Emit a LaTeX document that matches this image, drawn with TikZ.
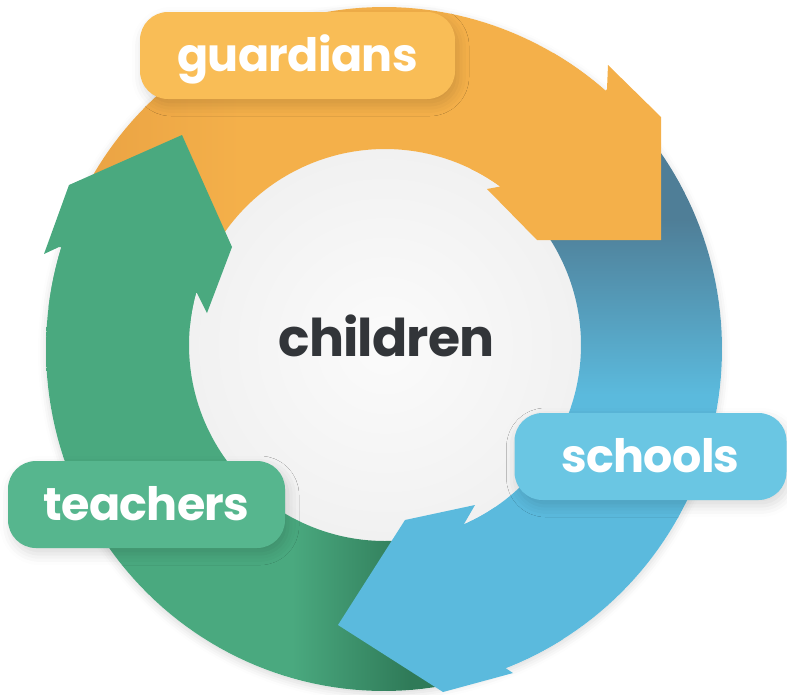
\documentclass[tikz,border=0pt]{standalone}
\usepackage{fontspec}
\setmainfont{Poppins}
\newfontfamily\labfont{Poppins}[LetterSpace=-1.5]
\newfontfamily\midfont{Poppins}[LetterSpace=-1.8]
\usetikzlibrary{shadows.blur}
\definecolor{orA}{HTML}{F4B04A}
\definecolor{orL}{HTML}{F9BD56}
\definecolor{orD}{HTML}{EBA444}
\definecolor{blA}{HTML}{5BBADD}
\definecolor{blL}{HTML}{6AC6E3}
\definecolor{blD}{HTML}{4F7E97}
\definecolor{grA}{HTML}{4AA97F}
\definecolor{grL}{HTML}{56B68E}
\definecolor{grD}{HTML}{2F7A58}
\definecolor{txt}{HTML}{323539}
\definecolor{wcA}{HTML}{FBFBFB}
\definecolor{wcB}{HTML}{F1F1F1}
\pgfdeclareverticalshading{blueS}{100bp}{color(0bp)=(blA); color(50bp)=(blA); color(66bp)=(blD); color(100bp)=(blD)}
\pgfdeclarehorizontalshading{greenS}{100bp}{color(0bp)=(grA); color(56bp)=(grA); color(71bp)=(grD); color(100bp)=(grD)}
\pgfdeclarehorizontalshading{orangeS}{100bp}{color(0bp)=(orD); color(26bp)=(orD); color(40bp)=(orA); color(100bp)=(orA)}
\tikzset{
  lab/.style={rectangle, rounded corners=28pt, minimum height=87pt, inner sep=0pt,
    text=white, font=\labfont\fontsize{46pt}{46pt}\selectfont\bfseries,
    text height=32pt, text depth=0pt,
    blur shadow={shadow xshift=3pt, shadow yshift=-6pt, shadow blur radius=11pt, shadow opacity=15}},
  ctext/.style={text=txt, font=\midfont\fontsize{52pt}{52pt}\selectfont\bfseries, inner sep=0pt}
}
\begin{document}
\begin{tikzpicture}[x=1pt,y=-1pt]
\useasboundingbox (0,0) rectangle (787,694);
% ring halo
\fill[white, blur shadow={shadow xshift=0pt, shadow yshift=-3pt, shadow blur radius=8pt, shadow opacity=15}]
  (384,349) ellipse[x radius=338pt, y radius=342pt];
% centre disc
\shade[inner color=wcA, outer color=wcB] (385,345) circle[radius=196pt];
% shafts
\shade[shading=orangeS]
  plot[domain=208:311,samples=70] ({384+338*cos(\x)},{349+342*sin(\x)})
  -- plot[domain=306.6:208,samples=70] ({385+196*cos(\x)},{345+196*sin(\x)}) -- cycle;
\shade[shading=blueS]
  plot[domain=318:429.8,samples=70] ({384+338*cos(\x)},{349+342*sin(\x)})
  -- plot[domain=426.2:318,samples=70] ({385+196*cos(\x)},{345+196*sin(\x)}) -- cycle;
\shade[shading=greenS]
  plot[domain=80:197.3,samples=70] ({384+338*cos(\x)},{349+342*sin(\x)})
  -- plot[domain=195.5:80,samples=70] ({385+196*cos(\x)},{345+196*sin(\x)}) -- cycle;
% heads
\fill[orA] (607,89) -- (608,65) -- (661,117) -- (661,240) -- (537,240) -- (487,189) -- (503,186)
  -- plot[domain=306.6:296,samples=12] ({385+196*cos(\x)},{345+196*sin(\x)})
  -- plot[domain=300:311,samples=12] ({384+338*cos(\x)},{349+342*sin(\x)}) -- cycle;
\fill[blA] (498,663) -- (513,673) -- (443,692) -- (338,625) -- (405,520) -- (475,505) -- (464,524)
  -- plot[domain=66.2:56,samples=12] ({385+196*cos(\x)},{345+196*sin(\x)})
  -- plot[domain=58:69.8,samples=12] ({384+338*cos(\x)},{349+342*sin(\x)}) -- cycle;
\fill[grA] (59,247) -- (44,254) -- (69,185) -- (182,135) -- (232,247) -- (207,313) -- (197,293)
  -- plot[domain=195.5:185,samples=12] ({385+196*cos(\x)},{345+196*sin(\x)})
  -- plot[domain=187:197.3,samples=12] ({384+338*cos(\x)},{349+342*sin(\x)}) -- cycle;
% labels
\node[lab, fill=orL, minimum width=315pt] (guard) at (297.5,55.5) {guardians};
\node[lab, fill=blL, minimum width=272pt] (school) at (650.5,456.5) {schools};
\node[lab, fill=grL, minimum width=277pt] (teach) at (146.5,504.5) {teachers};
\node[ctext, anchor=base] (child) at (386.5,356) {children};
\end{tikzpicture}
\end{document}
